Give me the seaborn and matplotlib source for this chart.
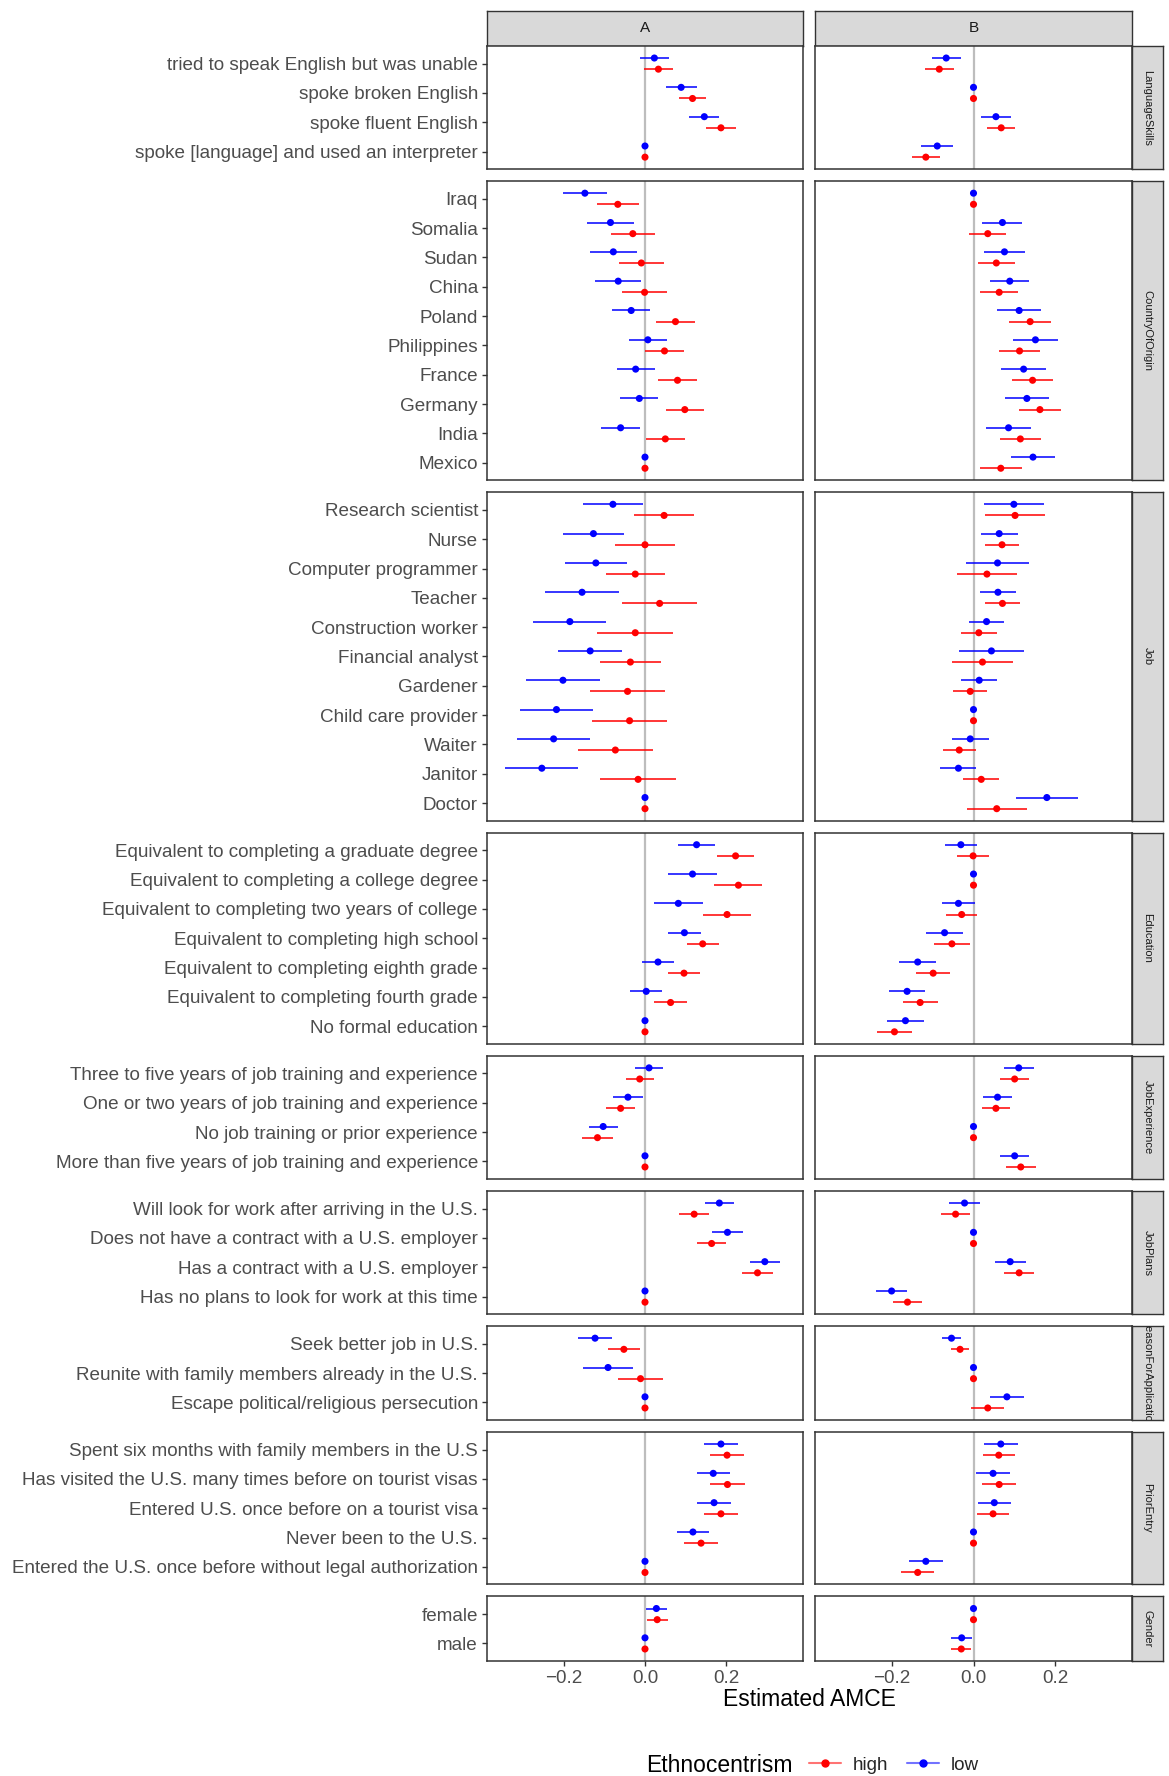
import numpy as np
import pandas as pd
import matplotlib.pyplot as plt
from matplotlib.lines import Line2D
import seaborn as sns

## Data: estimates and CI half-widths per attribute, panel (A/B) and group (low/high)

lang_levels = ["tried to speak English but was unable", "spoke broken English",
               "spoke fluent English", "spoke [language] and used an interpreter"]
lang_a_low = [0.023, 0.089, 0.146, 0.0]
lang_a_low_ci = [0.036, 0.038, 0.037, 0.0]
lang_a_high = [0.033, 0.117, 0.187, 0.0]
lang_a_high_ci = [0.036, 0.034, 0.036, 0.0]
lang_b_low = [-0.067, 0.0, 0.055, -0.089]
lang_b_low_ci = [0.036, 0.0, 0.036, 0.039]
lang_b_high = [-0.084, 0.0, 0.068, -0.117]
lang_b_high_ci = [0.035, 0.0, 0.034, 0.034]

country_levels = ["Iraq", "Somalia", "Sudan", "China", "Poland", "Philippines",
                  "France", "Germany", "India", "Mexico"]
country_a_low = [-0.148, -0.085, -0.078, -0.066, -0.034, 0.007, -0.023, -0.014, -0.060, 0.0]
country_a_low_ci = [0.055, 0.058, 0.058, 0.057, 0.047, 0.047, 0.047, 0.047, 0.048, 0.0]
country_a_high = [-0.067, -0.030, -0.009, -0.001, 0.075, 0.048, 0.080, 0.098, 0.050, 0.0]
country_a_high_ci = [0.052, 0.054, 0.055, 0.055, 0.047, 0.048, 0.047, 0.047, 0.048, 0.0]
country_b_low = [0.0, 0.071, 0.076, 0.089, 0.112, 0.152, 0.123, 0.131, 0.086, 0.146]
country_b_low_ci = [0.0, 0.049, 0.050, 0.048, 0.054, 0.055, 0.055, 0.054, 0.055, 0.055]
country_b_high = [0.0, 0.035, 0.056, 0.063, 0.139, 0.113, 0.145, 0.163, 0.115, 0.067]
country_b_high_ci = [0.0, 0.045, 0.046, 0.046, 0.051, 0.051, 0.050, 0.051, 0.050, 0.052]

job_levels = ["Research scientist", "Nurse", "Computer programmer", "Teacher",
              "Construction worker", "Financial analyst", "Gardener",
              "Child care provider", "Waiter", "Janitor", "Doctor"]
job_a_low = [-0.079, -0.127, -0.121, -0.155, -0.185, -0.135, -0.202, -0.218, -0.225, -0.254, 0.0]
job_a_low_ci = [0.073, 0.076, 0.076, 0.090, 0.090, 0.079, 0.090, 0.090, 0.090, 0.090, 0.0]
job_a_high = [0.047, 0.0, -0.024, 0.036, -0.024, -0.036, -0.043, -0.038, -0.073, -0.017, 0.0]
job_a_high_ci = [0.074, 0.073, 0.073, 0.093, 0.093, 0.076, 0.093, 0.093, 0.093, 0.093, 0.0]
job_b_low = [0.099, 0.063, 0.059, 0.060, 0.032, 0.044, 0.014, 0.0, -0.008, -0.037, 0.180]
job_b_low_ci = [0.074, 0.045, 0.077, 0.044, 0.044, 0.080, 0.044, 0.0, 0.045, 0.044, 0.076]
job_b_high = [0.102, 0.070, 0.033, 0.071, 0.013, 0.022, -0.008, 0.0, -0.035, 0.019, 0.057]
job_b_high_ci = [0.073, 0.042, 0.073, 0.042, 0.044, 0.075, 0.042, 0.0, 0.041, 0.044, 0.074]

edu_levels = ["Equivalent to completing a graduate degree",
              "Equivalent to completing a college degree",
              "Equivalent to completing two years of college",
              "Equivalent to completing high school",
              "Equivalent to completing eighth grade",
              "Equivalent to completing fourth grade",
              "No formal education"]
edu_a_low = [0.127, 0.117, 0.082, 0.097, 0.032, 0.003, 0.0]
edu_a_low_ci = [0.045, 0.061, 0.060, 0.040, 0.040, 0.039, 0.0]
edu_a_high = [0.223, 0.230, 0.202, 0.142, 0.096, 0.063, 0.0]
edu_a_high_ci = [0.046, 0.059, 0.060, 0.039, 0.040, 0.040, 0.0]
edu_b_low = [-0.031, 0.0, -0.037, -0.071, -0.137, -0.163, -0.167]
edu_b_low_ci = [0.040, 0.0, 0.040, 0.045, 0.045, 0.045, 0.045]
edu_b_high = [-0.001, 0.0, -0.029, -0.053, -0.099, -0.131, -0.194]
edu_b_high_ci = [0.040, 0.0, 0.038, 0.044, 0.042, 0.043, 0.043]

exp_levels = ["Three to five years of job training and experience",
              "One or two years of job training and experience",
              "No job training or prior experience",
              "More than five years of job training and experience"]
exp_a_low = [0.010, -0.042, -0.103, 0.0]
exp_a_low_ci = [0.035, 0.036, 0.036, 0.0]
exp_a_high = [-0.013, -0.060, -0.117, 0.0]
exp_a_high_ci = [0.035, 0.036, 0.037, 0.0]
exp_b_low = [0.111, 0.059, 0.0, 0.101]
exp_b_low_ci = [0.037, 0.035, 0.0, 0.035]
exp_b_high = [0.101, 0.055, 0.0, 0.116]
exp_b_high_ci = [0.036, 0.034, 0.0, 0.037]

plans_levels = ["Will look for work after arriving in the U.S.",
                "Does not have a contract with a U.S. employer",
                "Has a contract with a U.S. employer",
                "Has no plans to look for work at this time"]
plans_a_low = [0.183, 0.203, 0.295, 0.0]
plans_a_low_ci = [0.036, 0.038, 0.037, 0.0]
plans_a_high = [0.121, 0.164, 0.277, 0.0]
plans_a_high_ci = [0.037, 0.036, 0.037, 0.0]
plans_b_low = [-0.022, 0.0, 0.090, -0.201]
plans_b_low_ci = [0.038, 0.0, 0.038, 0.038]
plans_b_high = [-0.044, 0.0, 0.112, -0.162]
plans_b_high_ci = [0.035, 0.0, 0.036, 0.036]

reason_levels = ["Seek better job in U.S.",
                 "Reunite with family members already in the U.S.",
                 "Escape political/religious persecution"]
reason_a_low = [-0.123, -0.091, 0.0]
reason_a_low_ci = [0.042, 0.061, 0.0]
reason_a_high = [-0.052, -0.011, 0.0]
reason_a_high_ci = [0.040, 0.056, 0.0]
reason_b_low = [-0.054, 0.0, 0.082]
reason_b_low_ci = [0.024, 0.0, 0.041]
reason_b_high = [-0.033, 0.0, 0.035]
reason_b_high_ci = [0.023, 0.0, 0.040]

prior_levels = ["Spent six months with family members in the U.S",
                "Has visited the U.S. many times before on tourist visas",
                "Entered U.S. once before on a tourist visa",
                "Never been to the U.S.",
                "Entered the U.S. once before without legal authorization"]
prior_a_low = [0.187, 0.168, 0.170, 0.118, 0.0]
prior_a_low_ci = [0.042, 0.041, 0.041, 0.040, 0.0]
prior_a_high = [0.202, 0.203, 0.187, 0.138, 0.0]
prior_a_high_ci = [0.042, 0.042, 0.042, 0.041, 0.0]
prior_b_low = [0.067, 0.048, 0.051, 0.0, -0.117]
prior_b_low_ci = [0.041, 0.041, 0.040, 0.0, 0.041]
prior_b_high = [0.062, 0.063, 0.048, 0.0, -0.137]
prior_b_high_ci = [0.039, 0.041, 0.040, 0.0, 0.040]

gender_levels = ["female", "male"]
gender_a_low = [0.028, 0.0]
gender_a_low_ci = [0.026, 0.0]
gender_a_high = [0.030, 0.0]
gender_a_high_ci = [0.026, 0.0]
gender_b_low = [0.0, -0.029]
gender_b_low_ci = [0.0, 0.026]
gender_b_high = [0.0, -0.030]
gender_b_high_ci = [0.0, 0.025]

facets = [
    ("LanguageSkills", lang_levels, lang_a_low, lang_a_low_ci, lang_a_high, lang_a_high_ci,
     lang_b_low, lang_b_low_ci, lang_b_high, lang_b_high_ci),
    ("CountryOfOrigin", country_levels, country_a_low, country_a_low_ci, country_a_high, country_a_high_ci,
     country_b_low, country_b_low_ci, country_b_high, country_b_high_ci),
    ("Job", job_levels, job_a_low, job_a_low_ci, job_a_high, job_a_high_ci,
     job_b_low, job_b_low_ci, job_b_high, job_b_high_ci),
    ("Education", edu_levels, edu_a_low, edu_a_low_ci, edu_a_high, edu_a_high_ci,
     edu_b_low, edu_b_low_ci, edu_b_high, edu_b_high_ci),
    ("JobExperience", exp_levels, exp_a_low, exp_a_low_ci, exp_a_high, exp_a_high_ci,
     exp_b_low, exp_b_low_ci, exp_b_high, exp_b_high_ci),
    ("JobPlans", plans_levels, plans_a_low, plans_a_low_ci, plans_a_high, plans_a_high_ci,
     plans_b_low, plans_b_low_ci, plans_b_high, plans_b_high_ci),
    ("ReasonForApplication", reason_levels, reason_a_low, reason_a_low_ci, reason_a_high, reason_a_high_ci,
     reason_b_low, reason_b_low_ci, reason_b_high, reason_b_high_ci),
    ("PriorEntry", prior_levels, prior_a_low, prior_a_low_ci, prior_a_high, prior_a_high_ci,
     prior_b_low, prior_b_low_ci, prior_b_high, prior_b_high_ci),
    ("Gender", gender_levels, gender_a_low, gender_a_low_ci, gender_a_high, gender_a_high_ci,
     gender_b_low, gender_b_low_ci, gender_b_high, gender_b_high_ci),
]

records = []
for name, levels, *vals in facets:
    combos = [("A", "low"), ("A", "high"), ("B", "low"), ("B", "high")]
    for k, (panel, group) in enumerate(combos):
        est, ci = vals[2 * k], vals[2 * k + 1]
        for i, lvl in enumerate(levels):
            records.append(dict(attr=name, level=lvl, idx=i, panel=panel,
                                group=group, est=est[i], ci=ci[i]))
df = pd.DataFrame(records)
df["y"] = df["idx"] + np.where(df["group"] == "low", -0.19, 0.19)
df["lo"] = df["est"] - df["ci"]
df["hi"] = df["est"] + df["ci"]

pal = {"high": "#FF0000", "low": "#0000FF"}

sns.set_theme(style="white")
plt.rcParams["font.family"] = ["Liberation Sans", "DejaVu Sans"]

W, H = 1169, 1776
fig = plt.figure(figsize=(W / 100, H / 100), dpi=100)


def box(x, y, w, h):
    # pixel box (top-left origin) -> figure fraction
    return [x / W, 1 - (y + h) / H, w / W, h / H]


panel_x = {"A": 487, "B": 815}
panel_w = {"A": 316, "B": 317}
strip_x, strip_w = 1132, 31
top, bottom, gap = 46, 1661, 12
frame = "#333333"
grey_txt = "#4D4D4D"

n_all = [len(f[1]) + 0.2 for f in facets]
unit = (bottom - top - gap * (len(facets) - 1)) / sum(n_all)

# top strips
for p in ["A", "B"]:
    sax = fig.add_axes(box(panel_x[p], 11, panel_w[p], 35))
    sax.set_facecolor("#D9D9D9")
    sax.set_xticks([]); sax.set_yticks([])
    for s in sax.spines.values():
        s.set_color(frame); s.set_linewidth(1.0)
    sax.text(0.5, 0.5, p, ha="center", va="center", fontsize=11, color="#1A1A1A")

y0 = top
for r, (name, levels, *_) in enumerate(facets):
    n = len(levels)
    h = (n + 0.2) * unit
    for p in ["A", "B"]:
        ax = fig.add_axes(box(panel_x[p], y0, panel_w[p], h))
        sub = df[(df["attr"] == name) & (df["panel"] == p)]
        ax.axvline(0, color="#BDBDBD", lw=1.6, zorder=0)
        ax.hlines(sub["y"], sub["lo"], sub["hi"], colors=sub["group"].map(pal), lw=1.1, zorder=2)
        sns.scatterplot(data=sub, x="est", y="y", hue="group", palette=pal, s=26,
                        edgecolor="none", legend=False, ax=ax, zorder=3)
        ax.set_xlim(-0.389, 0.389)
        ax.set_ylim(n - 0.4, -0.6)
        ax.set_xlabel(""); ax.set_ylabel("")
        for s in ax.spines.values():
            s.set_color(frame); s.set_linewidth(1.1)
        ax.set_xticks([-0.2, 0.0, 0.2])
        ax.set_yticks(range(n))
        if p == "A":
            ax.set_yticklabels(levels, fontsize=13.6, color=grey_txt)
            ax.tick_params(axis="y", left=True, length=3.5, width=1.0, color=frame, pad=3)
        else:
            ax.set_yticklabels([])
            ax.tick_params(axis="y", left=False)
        if r == len(facets) - 1:
            ax.set_xticklabels(["\u22120.2", "0.0", "0.2"], fontsize=13.6, color=grey_txt)
            ax.tick_params(axis="x", bottom=True, length=3.5, width=1.0, color=frame, pad=3)
        else:
            ax.set_xticklabels([])
            ax.tick_params(axis="x", bottom=False)
    # right strip
    sax = fig.add_axes(box(strip_x, y0, strip_w, h))
    sax.set_facecolor("#D9D9D9")
    sax.set_xticks([]); sax.set_yticks([])
    for s in sax.spines.values():
        s.set_color(frame); s.set_linewidth(1.0)
    sax.text(0.5, 0.5, name, ha="center", va="center", rotation=-90, fontsize=8,
             color="#1A1A1A", clip_on=True)
    y0 += h + gap

fig.text(809 / W, 1 - 1699 / H, "Estimated AMCE", ha="center", va="center", fontsize=16.5, color="black")

fig.text(646 / W, 1 - 1765 / H, "Ethnocentrism", ha="left", va="center", fontsize=16.5, color="black")
handles = [Line2D([0], [0], color=(1, 0, 0, 0.55), lw=1.5, marker="o", markersize=5,
                  markerfacecolor="#FF0000", markeredgecolor="#FF0000"),
           Line2D([0], [0], color=(0, 0, 1, 0.55), lw=1.5, marker="o", markersize=5,
                  markerfacecolor="#0000FF", markeredgecolor="#0000FF")]
fig.legend(handles, ["high", "low"], loc="center left", bbox_to_anchor=(809 / W, 1 - 1765 / H),
           ncol=2, frameon=False, fontsize=13.6, handlelength=1.7, handletextpad=0.6,
           columnspacing=1.0, borderaxespad=0, borderpad=0)

fig.savefig("out.png", dpi=100)
